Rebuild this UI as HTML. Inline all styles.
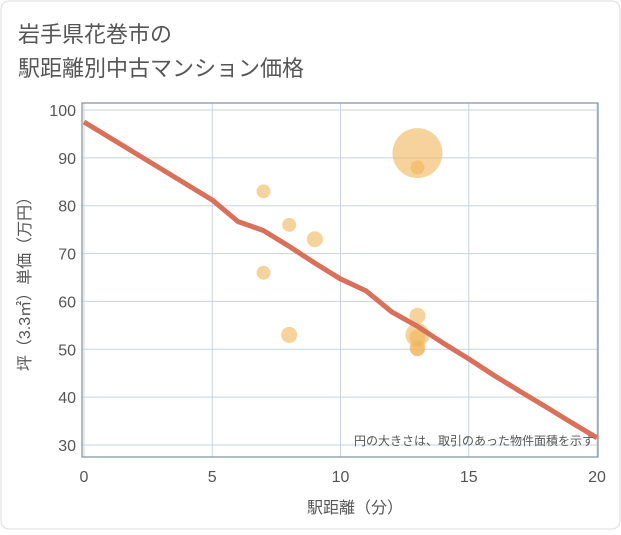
<!DOCTYPE html>
<html><head><meta charset="utf-8"><style>
body{margin:0;background:#fff;}
svg text{font-family:"Liberation Sans","Noto Sans CJK JP",sans-serif;}
</style></head><body>
<svg width="621" height="530" viewBox="0 0 621 530">
<rect x="1" y="1" width="619" height="528" rx="8" fill="#fff" stroke="#ddd"/>
<text x="18" y="42" font-size="22" fill="#555">岩手県花巻市の</text>
<text x="18" y="76" font-size="22" fill="#555">駅距離別中古マンション価格</text>
<g id="grid"></g>
<g id="bubbles"></g>
<g id="line"></g>
<rect x="82" y="103" width="516" height="354" fill="none" stroke="#8a96a6" stroke-width="1.3"/>
<g id="ticks"></g>
<text x="594" y="445" font-size="12" fill="#555" text-anchor="end">円の大きさは、取引のあった物件面積を示す</text>
<text x="355" y="513" font-size="16" fill="#555" text-anchor="middle">駅距離（分）</text>
<text transform="translate(30,280) rotate(-90)" font-size="16" fill="#555" text-anchor="middle">坪（3.3㎡）単価（万円）</text>
</svg>
<script>
const xTicks=[0,5,10,15,20];
const yTicks=[30,40,50,60,70,80,90,100];
const lineX=[0,5,6,7,8,9,10,11,12,13,14,15,16,17,18,19,20];
const lineY=[97.5,81.2,76.7,74.8,71.5,68,64.7,62.2,57.8,54.8,51.3,48,44.5,41.2,38,34.7,31.5];
const bubX=[7,8,9,7,8,13,13,13,13,13,13,13];
const bubY=[83,76,73,66,53,91,88,57,53,52.5,50,50.3];
const bubR=[7,7,8,7,8,25,7,8,12,8,7,8];
const NS='http://www.w3.org/2000/svg';
const sx=v=>84+v*(597-84)/20;
const sy=v=>445-(v-30)*(445-110)/70;
function mk(t,a,p){const e=document.createElementNS(NS,t);for(const k in a)e.setAttribute(k,a[k]);p.appendChild(e);return e;}
const g=document.getElementById('grid'),tk=document.getElementById('ticks');
xTicks.forEach(v=>{const l=mk('line',{x1:sx(v),x2:sx(v),y1:103,y2:457,stroke:'#c8d3df','stroke-width':1},g);

const t=mk('text',{x:sx(v),y:482,'font-size':16,fill:'#555','text-anchor':'middle'},tk);t.textContent=v;
});
yTicks.forEach(v=>{const l=mk('line',{x1:82,x2:598,y1:sy(v),y2:sy(v),stroke:'#c8d3df','stroke-width':1},g);

const t=mk('text',{x:76,y:sy(v)+6,'font-size':16,fill:'#555','text-anchor':'end'},tk);t.textContent=v;
});
const b=document.getElementById('bubbles');
bubX.forEach((x,i)=>{const c=mk('circle',{cx:sx(x),cy:sy(bubY[i]),r:bubR[i],fill:'#f0b55a','fill-opacity':0.6},b);
});
const p=mk('polyline',{points:lineX.map((x,i)=>sx(x)+','+sy(lineY[i])).join(' '),fill:'none',stroke:'#d9705a','stroke-width':5,'stroke-linejoin':'round'},document.getElementById('line'));

</script>
</body></html>
